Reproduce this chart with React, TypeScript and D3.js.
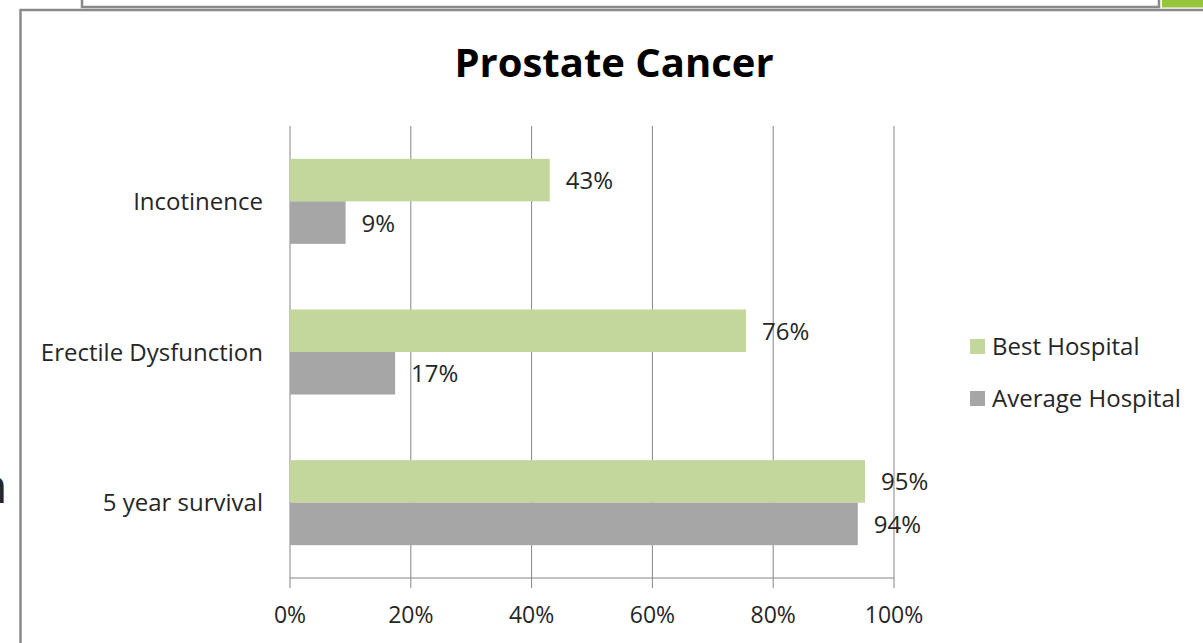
import React from "react";
import * as d3 from "d3";

const categories = ["Incotinence", "Erectile Dysfunction", "5 year survival"];
const seriesNames = ["Best Hospital", "Average Hospital"];
const bestValues = [0.43, 0.755, 0.952];
const avgValues = [0.092, 0.174, 0.94];
const bestLabels = ["43%", "76%", "95%"];
const avgLabels = ["9%", "17%", "94%"];
const xTicks = [0, 0.2, 0.4, 0.6, 0.8, 1.0];
const colors = ["#c3d69b", "#a6a6a6"];

const FONT = "'Open Sans', 'Noto Sans', sans-serif";

export default function App() {
  const W = 1203, H = 643;
  const x = d3.scaleLinear().domain([0, 1]).range([290, 894]);
  const y = d3.scaleBand<string>().domain(categories).range([126, 578]).padding(0);
  const barH = 42.5;
  const series = [bestValues, avgValues];
  const labels = [bestLabels, avgLabels];
  const fmt = d3.format(".0%");
  return (
    <svg width={W} height={H} style={{ position: "fixed", left: 0, top: 0, background: "#fff" }}>
      {/* background slide frames */}
      <rect x={82} y={-5} width={1077} height={12} fill="#fff" stroke="#8a8a8a" strokeWidth={2.5} />
      <rect x={1162} y={0} width={41} height={7.5} fill="#97c43d" />
      <text x={-22} y={503} fontFamily={FONT} fontSize={48} fill="#262626">n</text>
      {/* chart frame */}
      <rect x={20.5} y={10} width={1200} height={660} fill="#fff" stroke="#8a8a8a" strokeWidth={2.5} />
      {/* title */}
      <text x={614} y={77} textAnchor="middle" fontFamily={FONT} fontWeight="bold" fontSize={40} fill="#000">Prostate Cancer</text>
      {/* gridlines */}
      {xTicks.map((t) => (
        <g key={t}>
          <line x1={x(t)} x2={x(t)} y1={126} y2={588} stroke="#868686" strokeWidth={1} />
          <text x={x(t)} y={623} textAnchor="middle" fontFamily={FONT} fontSize={23} fill="#262626">{fmt(t)}</text>
        </g>
      ))}
      <line x1={290} x2={894} y1={578} y2={578} stroke="#868686" strokeWidth={1} />
      {/* bars */}
      {categories.map((c, i) => {
        const cy = (y(c) as number) + y.bandwidth() / 2;
        return (
          <g key={c}>
            {series.map((vals, s) => {
              const top = cy - barH + s * barH;
              return (
                <g key={s}>
                  <rect x={x(0)} y={top} width={x(vals[i]) - x(0)} height={barH} fill={colors[s]} />
                  <text x={x(vals[i]) + 16} y={top + barH / 2 + 9} fontFamily={FONT} fontSize={24} fill="#262626">{labels[s][i]}</text>
                </g>
              );
            })}
            <text x={263} y={cy + 8.5} textAnchor="end" fontFamily={FONT} fontSize={24} fill="#262626">{c}</text>
          </g>
        );
      })}
      {/* legend */}
      {seriesNames.map((n, i) => (
        <g key={n}>
          <rect x={970} y={339 + i * 52} width={15} height={15} fill={colors[i]} />
          <text x={992} y={355 + i * 52} fontFamily={FONT} fontSize={24} fill="#262626">{n}</text>
        </g>
      ))}
    </svg>
  );
}
